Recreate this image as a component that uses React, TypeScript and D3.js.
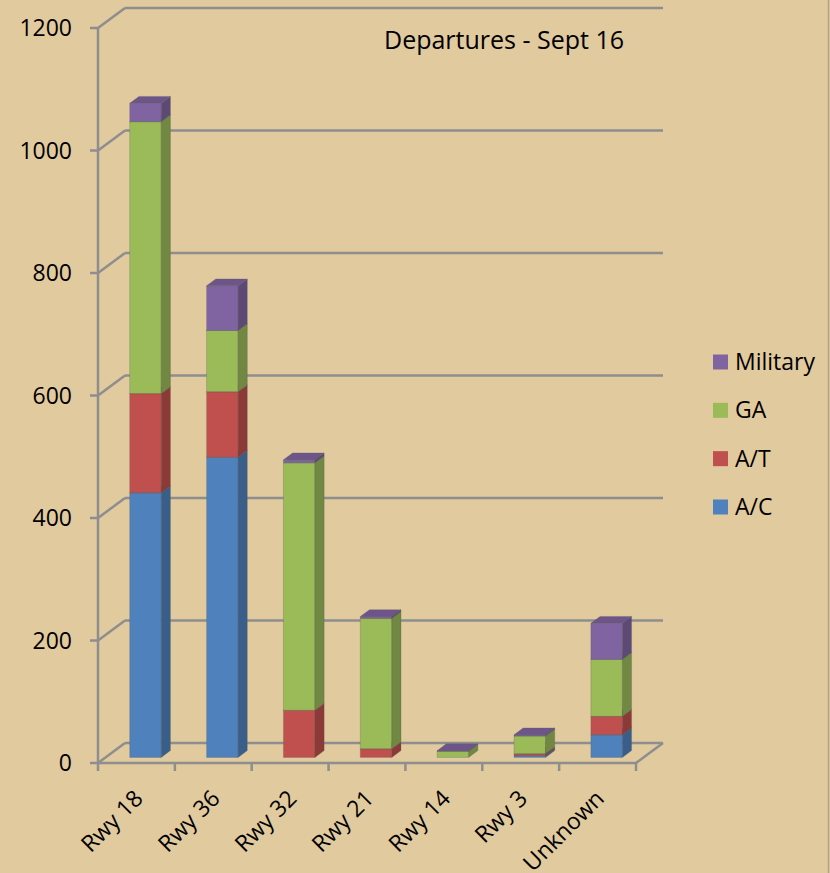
import React, { useEffect, useRef } from "react";
import * as d3 from "d3";

const categories = ["Rwy 18", "Rwy 36", "Rwy 32", "Rwy 21", "Rwy 14", "Rwy 3", "Unknown"];
const seriesNames = ["A/C", "A/T", "GA", "Military"];
const acValues = [432, 490, 0, 0, 0, 3, 37];
const atValues = [162, 107, 77, 14, 0, 3, 30];
const gaValues = [444, 100, 404, 213, 10, 29, 93];
const militaryValues = [30, 73, 5, 3, 1, 2, 59];
const yTicks = [0, 200, 400, 600, 800, 1000, 1200];
const seriesColors = ["#4F81BD", "#C0504D", "#9BBB59", "#8064A2"];

const W = 830;
const H = 873;
const FONT = "'Open Sans', sans-serif";

// wall depth offset and bar depth positions (fractions of wall depth)
const depthX = 27;
const depthY = -20;
const barZ0 = 0.28;
const barZ1 = 0.62;

function Chart() {
  const svgRef = useRef<SVGSVGElement>(null);

  useEffect(() => {
    const svg = d3.select(svgRef.current);
    svg.selectAll("*").remove();

    svg.append("rect").attr("width", W).attr("height", H).attr("fill", "#E0CA9E");
    svg.append("line")
      .attr("x1", W - 1.5).attr("x2", W - 1.5).attr("y1", 0).attr("y2", H)
      .attr("stroke", "#B3A486").attr("stroke-width", 1.5);

    const x = d3.scaleBand().domain(categories).range([98, 636]).padding(0);
    const y = d3.scaleLinear().domain([0, 1200]).range([763, 28]);
    const px = (xv: number, z: number) => xv + depthX * z;
    const py = (yv: number, z: number) => yv + depthY * z;

    const grid = "#8E8E8E";
    const g = svg.append("g");
    const x0 = x.range()[0];
    const x1 = x.range()[1];

    // back wall gridlines + side wall diagonals
    yTicks.forEach(t => {
      const yy = y(t);
      g.append("line")
        .attr("x1", px(x0, 1)).attr("x2", px(x1, 1))
        .attr("y1", py(yy, 1)).attr("y2", py(yy, 1))
        .attr("stroke", grid).attr("stroke-width", 2.5);
      g.append("line")
        .attr("x1", x0).attr("x2", px(x0, 1))
        .attr("y1", yy).attr("y2", py(yy, 1))
        .attr("stroke", grid).attr("stroke-width", 2.5);
      g.append("line")
        .attr("x1", x0 - 8).attr("x2", x0)
        .attr("y1", yy).attr("y2", yy)
        .attr("stroke", grid).attr("stroke-width", 2.5);
      g.append("text")
        .attr("x", 72).attr("y", yy + 8)
        .attr("text-anchor", "end")
        .attr("font-family", FONT).attr("font-size", 23)
        .attr("fill", "#000")
        .text(t);
    });

    // floor: front edge and right diagonal
    g.append("line")
      .attr("x1", x0).attr("x2", x1).attr("y1", y(0)).attr("y2", y(0))
      .attr("stroke", grid).attr("stroke-width", 2.5);
    g.append("line")
      .attr("x1", x1).attr("x2", px(x1, 1)).attr("y1", y(0)).attr("y2", py(y(0), 1))
      .attr("stroke", grid).attr("stroke-width", 2.5);
    // front vertical axis
    g.append("line")
      .attr("x1", x0).attr("x2", x0).attr("y1", y(1200)).attr("y2", y(0))
      .attr("stroke", grid).attr("stroke-width", 2.5);
    // category ticks
    [...categories.map(c => x(c) as number), x1].forEach(tx => {
      g.append("line")
        .attr("x1", tx).attr("x2", tx).attr("y1", y(0)).attr("y2", y(0) + 8)
        .attr("stroke", grid).attr("stroke-width", 2.5);
    });

    // bars
    const series = [acValues, atValues, gaValues, militaryValues];
    const barW = x.bandwidth() * 0.41;
    categories.forEach((cat, i) => {
      const cx = (x(cat) as number) + x.bandwidth() / 2 + 1.5;
      const bx0 = cx - barW / 2;
      const bx1 = cx + barW / 2;
      let base = 0;
      series.forEach((vals, s) => {
        const v = vals[i];
        if (v <= 0) return;
        const yb = y(base);
        const yt = y(base + v);
        base += v;
        const col = d3.color(seriesColors[s]) as d3.RGBColor;
        const side = col.darker(0.9).formatHex();
        const top = col.darker(0.45).formatHex();
        const edge = "rgba(90,90,90,0.35)";
        // front face
        g.append("path")
          .attr("d", `M${px(bx0, barZ0)},${py(yb, barZ0)} L${px(bx1, barZ0)},${py(yb, barZ0)} L${px(bx1, barZ0)},${py(yt, barZ0)} L${px(bx0, barZ0)},${py(yt, barZ0)} Z`)
          .attr("fill", seriesColors[s]).attr("stroke", edge).attr("stroke-width", 0.8);
        // side face
        g.append("path")
          .attr("d", `M${px(bx1, barZ0)},${py(yb, barZ0)} L${px(bx1, barZ1)},${py(yb, barZ1)} L${px(bx1, barZ1)},${py(yt, barZ1)} L${px(bx1, barZ0)},${py(yt, barZ0)} Z`)
          .attr("fill", side).attr("stroke", edge).attr("stroke-width", 0.8);
        // top face
        g.append("path")
          .attr("d", `M${px(bx0, barZ0)},${py(yt, barZ0)} L${px(bx1, barZ0)},${py(yt, barZ0)} L${px(bx1, barZ1)},${py(yt, barZ1)} L${px(bx0, barZ1)},${py(yt, barZ1)} Z`)
          .attr("fill", top).attr("stroke", edge).attr("stroke-width", 0.8);
      });
    });

    // category labels
    categories.forEach(cat => {
      const cx = (x(cat) as number) + x.bandwidth() / 2;
      g.append("text")
        .attr("transform", `translate(${cx + 8},${800}) rotate(-45)`)
        .attr("text-anchor", "end")
        .attr("font-family", FONT).attr("font-size", 23)
        .attr("fill", "#000")
        .text(cat);
    });

    // title
    g.append("text")
      .attr("x", 384).attr("y", 49)
      .attr("font-family", FONT).attr("font-size", 25)
      .attr("fill", "#000")
      .text("Departures - Sept 16");

    // legend (reverse order, Military on top)
    const legendY = d3.scalePoint().domain([...seriesNames].reverse()).range([362, 507]);
    [...seriesNames].reverse().forEach(name => {
      const s = seriesNames.indexOf(name);
      const ly = legendY(name) as number;
      g.append("rect")
        .attr("x", 713).attr("y", ly - 7.5).attr("width", 15).attr("height", 15)
        .attr("fill", seriesColors[s]);
      g.append("text")
        .attr("x", 735).attr("y", ly + 8)
        .attr("font-family", FONT).attr("font-size", 23)
        .attr("fill", "#000")
        .text(name);
    });
  }, []);

  return <svg ref={svgRef} width={W} height={H} style={{ position: "absolute", left: 0, top: 0 }} />;
}

export default function App() {
  return <Chart />;
}
